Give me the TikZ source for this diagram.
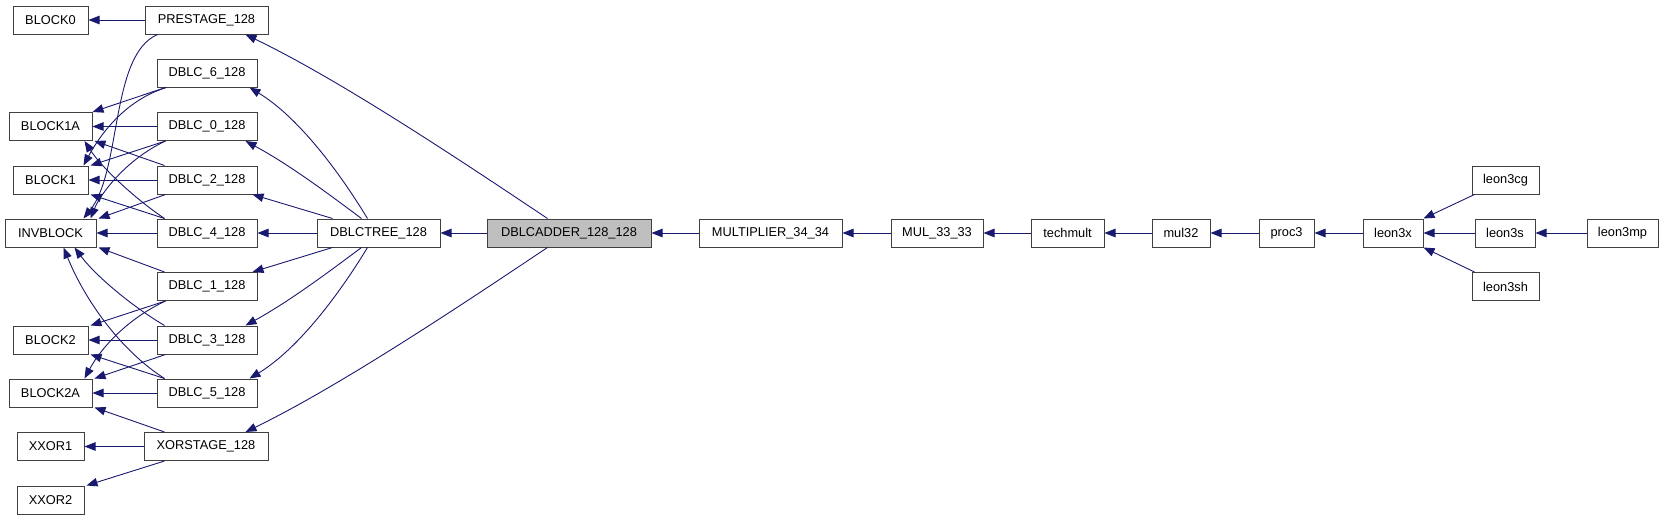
\documentclass[tikz,border=0pt]{standalone}
\usepackage{fontspec}
\setmainfont{Liberation Sans}
\usetikzlibrary{arrows.meta}
\definecolor{edgeblue}{HTML}{191970}
\definecolor{boxgray}{HTML}{404040}
\definecolor{hilite}{HTML}{BFBFBF}
\begin{document}
\begin{tikzpicture}[x=1pt,y=-1pt,
  box/.style={draw=boxgray, line width=1pt, fill=white, inner sep=0pt,
    minimum height=28pt, font=\fontsize{12.8}{14}\selectfont},
  edge/.style={draw=edgeblue, line width=0.9pt,
    -{Triangle[length=11pt,width=8.5pt]}, fill=none}]
\useasboundingbox (0,0) rectangle (1664,520);
% left column
\node[box, minimum width=75pt]  (block0)  at (50.5,20)   {BLOCK0};
\node[box, minimum width=83pt]  (block1a) at (50.5,126.5) {BLOCK1A};
\node[box, minimum width=75pt]  (block1)  at (50.5,180)  {BLOCK1};
\node[box, minimum width=91pt]  (invblock) at (50.5,233) {INVBLOCK};
\node[box, minimum width=75pt]  (block2)  at (50.5,340)  {BLOCK2};
\node[box, minimum width=83pt]  (block2a) at (50.5,393)  {BLOCK2A};
\node[box, minimum width=67pt]  (xxor1)   at (50.5,446.5) {XXOR1};
\node[box, minimum width=67pt]  (xxor2)   at (50.5,500)  {XXOR2};
% second column
\node[box, minimum width=123pt] (prestage) at (206.5,20) {PRESTAGE\_128};
\node[box, minimum width=100pt] (dblc6) at (207,73)    {DBLC\_6\_128};
\node[box, minimum width=100pt] (dblc0) at (207,126.5) {DBLC\_0\_128};
\node[box, minimum width=100pt] (dblc2) at (207,180)   {DBLC\_2\_128};
\node[box, minimum width=100pt] (dblc4) at (207,233)   {DBLC\_4\_128};
\node[box, minimum width=100pt] (dblc1) at (207,286.5) {DBLC\_1\_128};
\node[box, minimum width=100pt] (dblc3) at (207,340)   {DBLC\_3\_128};
\node[box, minimum width=100pt] (dblc5) at (207,393)   {DBLC\_5\_128};
\node[box, minimum width=124pt] (xorstage) at (206,446.5) {XORSTAGE\_128};
% main row
\node[box, minimum width=123pt] (dblctree) at (378.5,233) {DBLCTREE\_128};
\node[box, minimum width=164pt, fill=hilite] (dblcadder) at (569,233) {DBLCADDER\_128\_128};
\node[box, minimum width=143pt] (multiplier) at (770.5,233) {MULTIPLIER\_34\_34};
\node[box, minimum width=92pt]  (mul3333) at (937,233) {MUL\_33\_33};
\node[box, minimum width=73pt]  (techmult) at (1067.5,233) {techmult};
\node[box, minimum width=58pt]  (mul32) at (1181,233) {mul32};
\node[box, minimum width=55pt]  (proc3) at (1286.5,233) {proc3};
\node[box, minimum width=60pt]  (leon3x) at (1393,233) {leon3x};
\node[box, minimum width=67pt]  (leon3cg) at (1505.5,180) {leon3cg};
\node[box, minimum width=60pt]  (leon3s) at (1505,233) {leon3s};
\node[box, minimum width=67pt]  (leon3sh) at (1505.5,286.5) {leon3sh};
\node[box, minimum width=71pt]  (leon3mp) at (1622.5,233) {leon3mp};

% PRESTAGE
\draw[edge] (prestage.west) -- (block0.east);
\draw[edge] ([xshift=13pt]prestage.south west) .. controls (110,55) and (122,170) .. ([xshift=-13pt]invblock.north east);
% DBLC_6
\draw[edge] ([xshift=9pt]dblc6.south west) -- (block1a.north east);
\draw[edge] ([xshift=10pt]dblc6.south west) .. controls (125,100) and (100,135) .. ([xshift=-5pt]block1.north east);
% DBLC_0
\draw[edge] (dblc0.west) -- (block1a.east);
\draw[edge] ([xshift=9pt]dblc0.south west) -- ([xshift=2pt]block1.north east);
\draw[edge] ([xshift=9pt]dblc0.south west) .. controls (125,160) and (100,195) .. ([xshift=-6pt]invblock.north east);
% DBLC_2
\draw[edge] ([xshift=8pt]dblc2.north west) -- ([xshift=2pt]block1a.south east);
\draw[edge] (dblc2.west) -- (block1.east);
\draw[edge] ([xshift=9pt]dblc2.south west) -- ([xshift=2pt]invblock.north east);
% DBLC_4
\draw[edge] ([xshift=8pt]dblc4.north west) .. controls (130,195) and (100,165) .. ([xshift=-8pt]block1a.south east);
\draw[edge] ([xshift=8pt]dblc4.north west) -- ([xshift=2pt]block1.south east);
\draw[edge] (dblc4.west) -- (invblock.east);
% DBLC_1
\draw[edge] ([xshift=8pt]dblc1.north west) -- ([xshift=2pt]invblock.south east);
\draw[edge] ([xshift=9pt]dblc1.south west) -- ([xshift=2pt]block2.north east);
\draw[edge] ([xshift=9pt]dblc1.south west) .. controls (125,320) and (100,350) .. ([xshift=-8pt]block2a.north east);
% DBLC_3
\draw[edge] ([xshift=8pt]dblc3.north west) .. controls (130,305) and (95,275) .. ([xshift=-22pt]invblock.south east);
\draw[edge] (dblc3.west) -- (block2.east);
\draw[edge] ([xshift=9pt]dblc3.south west) -- ([xshift=2pt]block2a.north east);
% DBLC_5
\draw[edge] ([xshift=8pt]dblc5.north west) .. controls (120,350) and (85,300) .. ([xshift=-33pt]invblock.south east);
\draw[edge] ([xshift=8pt]dblc5.north west) -- ([xshift=2pt]block2.south east);
\draw[edge] (dblc5.west) -- (block2a.east);
% XORSTAGE
\draw[edge] ([xshift=21pt]xorstage.north west) -- ([xshift=2pt]block2a.south east);
\draw[edge] (xorstage.west) -- (xxor1.east);
\draw[edge] ([xshift=21pt]xorstage.south west) -- ([xshift=2pt]xxor2.north east);
% DBLCTREE
\draw[edge] ([xshift=51pt]dblctree.north west) .. controls (335,165) and (295,115) .. ([xshift=-8pt]dblc6.south east);
\draw[edge] ([xshift=45pt]dblctree.north west) .. controls (330,195) and (290,165) .. ([xshift=-12pt]dblc0.south east);
\draw[edge] ([xshift=16pt]dblctree.north west) -- ([xshift=-5pt]dblc2.south east);
\draw[edge] (dblctree.west) -- (dblc4.east);
\draw[edge] ([xshift=16pt]dblctree.south west) -- ([xshift=-5pt]dblc1.north east);
\draw[edge] ([xshift=45pt]dblctree.south west) .. controls (330,271) and (290,301) .. ([xshift=-12pt]dblc3.north east);
\draw[edge] ([xshift=51pt]dblctree.south west) .. controls (335,301) and (295,351) .. ([xshift=-8pt]dblc5.north east);
% DBLCADDER
\draw[edge] ([xshift=61pt]dblcadder.north west) .. controls (460,160) and (340,80) .. ([xshift=-23pt]prestage.south east);
\draw[edge] (dblcadder.west) -- (dblctree.east);
\draw[edge] ([xshift=61pt]dblcadder.south west) .. controls (460,306) and (340,386) .. ([xshift=-23pt]xorstage.north east);
% chain
\draw[edge] (multiplier.west) -- (dblcadder.east);
\draw[edge] (mul3333.west) -- (multiplier.east);
\draw[edge] (techmult.west) -- (mul3333.east);
\draw[edge] (mul32.west) -- (techmult.east);
\draw[edge] (proc3.west) -- (mul32.east);
\draw[edge] (leon3x.west) -- (proc3.east);
\draw[edge] ([xshift=3pt]leon3cg.south west) -- (leon3x.north east);
\draw[edge] (leon3s.west) -- (leon3x.east);
\draw[edge] ([xshift=3pt]leon3sh.north west) -- (leon3x.south east);
\draw[edge] (leon3mp.west) -- (leon3s.east);
\end{tikzpicture}
\end{document}
